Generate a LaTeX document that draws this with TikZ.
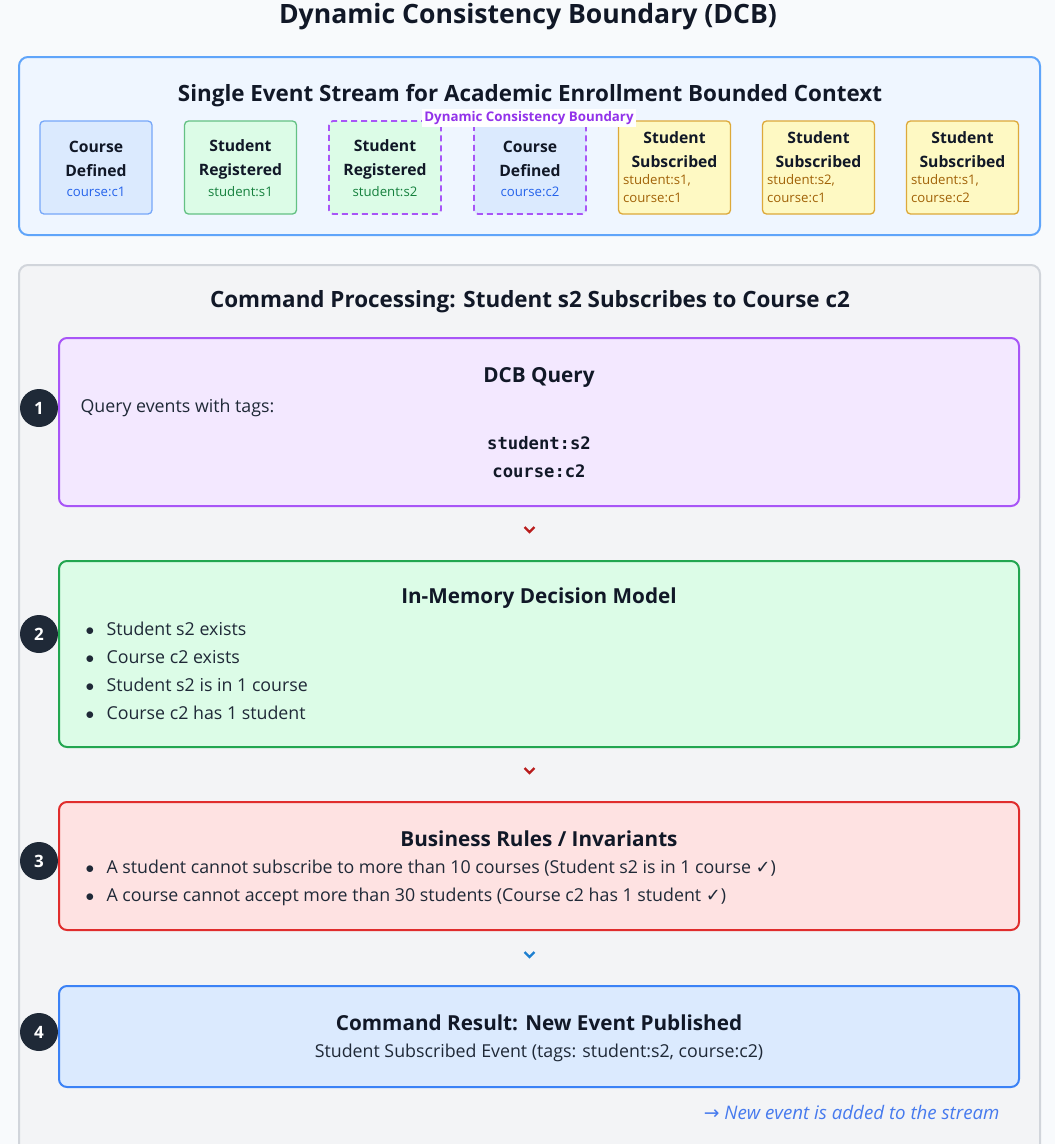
\documentclass[tikz,border=0pt]{standalone}
\usepackage{fontspec}
\setmainfont{Open Sans}
\setmonofont{DejaVu Sans Mono}
\newfontfamily\symfont{DejaVu Sans}
\usetikzlibrary{positioning,calc}

\definecolor{pagebg}{HTML}{F8FAFC}
\definecolor{ink}{HTML}{111827}
\definecolor{bodyink}{HTML}{1F2937}
\definecolor{streamfill}{HTML}{EFF6FF}
\definecolor{streamline}{HTML}{60A5FA}
\definecolor{cmdfill}{HTML}{F3F4F6}
\definecolor{cmdline}{HTML}{D1D5DB}
\definecolor{bluefill}{HTML}{DBEAFE}
\definecolor{blueline}{HTML}{3B82F6}
\definecolor{bluetag}{HTML}{2563EB}
\definecolor{greenfill}{HTML}{DCFCE7}
\definecolor{greenline}{HTML}{22A650}
\definecolor{greentag}{HTML}{15803D}
\definecolor{purplefill}{HTML}{F3E8FF}
\definecolor{purpleline}{HTML}{A855F7}
\definecolor{purpletag}{HTML}{9333EA}
\definecolor{redfill}{HTML}{FEE2E2}
\definecolor{redline}{HTML}{E02D2D}
\definecolor{yellowfill}{HTML}{FEF9C3}
\definecolor{yellowline}{HTML}{DDA93A}
\definecolor{yellowtag}{HTML}{A16207}
\definecolor{chevred}{HTML}{B91C1C}
\definecolor{chevblue}{HTML}{1D7FD0}
\definecolor{numfill}{HTML}{1F2937}

\newcommand{\bul}{\makebox[21pt][l]{$\bullet$}}

\begin{document}
\begin{tikzpicture}[
        x=1pt, y=-1pt,
        panel/.style={draw, rounded corners=9pt, line width=2pt},
        evbox/.style={draw, rounded corners=4pt, line width=1.3pt,
            minimum width=112pt, minimum height=93pt, inner sep=0pt},
        dcbbox/.style={evbox, draw=purpleline, line width=1.8pt, dash pattern=on 6pt off 4pt},
        evhead/.style={align=center, text=ink, font=\fontsize{15.7}{24}\selectfont\bfseries},
        evtag/.style={align=left, font=\fontsize{13.2}{18}\selectfont, inner sep=0pt},
        stepbox/.style={draw, rounded corners=8pt, line width=2pt,
            minimum width=960pt, inner sep=0pt},
        steptitle/.style={text=ink, font=\fontsize{20.7}{24}\selectfont\bfseries},
        stepbody/.style={text=bodyink, align=left, font=\fontsize{17.8}{28}\selectfont},
        stepnum/.style={circle, fill=numfill, text=white, minimum size=38pt,
            inner sep=0pt, font=\fontsize{17}{17}\selectfont\bfseries},
        chevron/.pic={\draw[line width=2.4pt] (-5,-3) -- (0,2) -- (5,-3);}
    ]
    \useasboundingbox[fill=pagebg] (0,0) rectangle (1055,1144);

    \node[text=ink, font=\fontsize{26.6}{30}\selectfont\bfseries] (title) at (528,17)
        {Dynamic Consistency Boundary (DCB)};

    % event stream
    \node[panel, draw=streamline, fill=streamfill, minimum width=1021pt,
        minimum height=178pt] (stream) at (529.5,146) {};
    \node[text=ink, font=\fontsize{22.4}{26}\selectfont\bfseries] (streamtitle) at (530,96)
        {Single Event Stream for Academic Enrollment Bounded Context};

    \node[evbox, draw=blueline!70, fill=bluefill] (e1) at (96,167.5) {};
    \node[evbox, draw=greenline!70, fill=greenfill] (e2) at (240.5,167.5) {};
    \node[dcbbox, fill=greenfill] (e3) at (385,167.5) {};
    \node[dcbbox, fill=bluefill] (e4) at (530,167.5) {};
    \node[evbox, draw=yellowline, fill=yellowfill] (e5) at (674.5,167.5) {};
    \node[evbox, draw=yellowline, fill=yellowfill] (e6) at (818.5,167.5) {};
    \node[evbox, draw=yellowline, fill=yellowfill] (e7) at (962.5,167.5) {};

    \node[evhead] at (e1 |- 0,159) {Course\\Defined};
    \node[evtag, text=bluetag] at (e1 |- 0,192) {course:c1};
    \node[evhead] at (e2 |- 0,159) {Student\\Registered};
    \node[evtag, text=greentag] at (e2 |- 0,192) {student:s1};
    \node[evhead] at (e3 |- 0,159) {Student\\Registered};
    \node[evtag, text=greentag] at (e3 |- 0,192) {student:s2};
    \node[evhead] at (e4 |- 0,159) {Course\\Defined};
    \node[evtag, text=bluetag] at (e4 |- 0,192) {course:c2};

    \node[evhead] at (e5 |- 0,150) {Student\\Subscribed};
    \node[evtag, text=yellowtag, anchor=west] at ($(e5.west)+(5,21)$) {student:s1,\\course:c1};
    \node[evhead] at (e6 |- 0,150) {Student\\Subscribed};
    \node[evtag, text=yellowtag, anchor=west] at ($(e6.west)+(5,21)$) {student:s2,\\course:c1};
    \node[evhead] at (e7 |- 0,150) {Student\\Subscribed};
    \node[evtag, text=yellowtag, anchor=west] at ($(e7.west)+(5,21)$) {student:s1,\\course:c2};

    \node[fill=white, text=purpletag, inner sep=2pt,
        font=\fontsize{13.3}{15}\selectfont\bfseries] (dcblabel) at (529,118)
        {Dynamic Consistency Boundary};

    % command processing
    \begin{scope}
        \clip (0,0) rectangle (1055,1144);
        \node[panel, draw=cmdline, fill=cmdfill, minimum width=1021pt,
            minimum height=900pt] (cmd) at (529.5,715) {};
    \end{scope}
    \node[steptitle, font=\fontsize{22.4}{26}\selectfont\bfseries] (cmdtitle) at (530,302)
        {Command Processing: Student s2 Subscribes to Course c2};

    \node[stepbox, draw=purpleline, fill=purplefill, minimum height=168pt] (query) at (539,422) {};
    \node[stepbox, draw=greenline, fill=greenfill, minimum height=186pt] (model) at (539,654) {};
    \node[stepbox, draw=redline, fill=redfill, minimum height=128pt] (rules) at (539,866) {};
    \node[stepbox, draw=blueline, fill=bluefill, minimum height=101pt] (result) at (539,1036.5) {};

    \node[steptitle] at (539,377) {DCB Query};
    \node[stepbody, anchor=west] at (77,408) {Query events with tags:};
    \node[text=ink, align=center, font=\fontsize{17.2}{28}\selectfont\ttfamily\bfseries]
        at (539,457) {student:s2\\course:c2};

    \node[steptitle] at (539,598) {In-Memory Decision Model};
    \node[stepbody, anchor=west] at (82,671)
        {\bul Student s2 exists\\
         \bul Course c2 exists\\
         \bul Student s2 is in 1 course\\
         \bul Course c2 has 1 student};

    \node[steptitle] at (539,839) {Business Rules / Invariants};
    \node[stepbody, anchor=west] at (82,883)
        {\bul A student cannot subscribe to more than 10 courses (Student s2 is in 1 course {\symfont ✓})\\
         \bul A course cannot accept more than 30 students (Course c2 has 1 student {\symfont ✓})};

    \node[steptitle] at (539,1023) {Command Result: New Event Published};
    \node[stepbody] at (539,1053) {Student Subscribed Event (tags: student:s2, course:c2)};

    \node[text=bluetag!85, anchor=east, font=\fontsize{18.7}{22}\selectfont\itshape] (note) at (1003,1112)
        {{\symfont →} New event is added to the stream};

    \node[stepnum] (n1) at (39,408) {1};
    \node[stepnum] (n2) at (39,634) {2};
    \node[stepnum] (n3) at (39,861) {3};
    \node[stepnum] (n4) at (39,1032) {4};

    \pic[color=chevred] at (cmd |- 0,530) {chevron};
    \pic[color=chevred] at (cmd |- 0,771) {chevron};
    \pic[color=chevblue] at (cmd |- 0,955) {chevron};
\end{tikzpicture}
\end{document}
